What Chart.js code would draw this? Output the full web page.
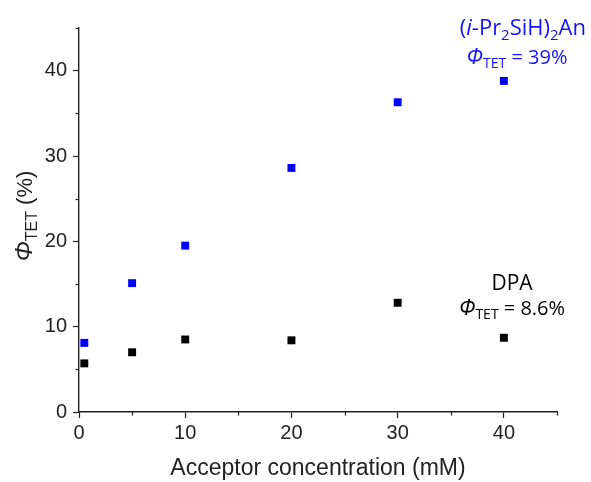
<!DOCTYPE html>
<html><head><meta charset="utf-8">
<script src="https://cdn.jsdelivr.net/npm/chart.js@4/dist/chart.umd.min.js"></script>
<style>html,body{margin:0;padding:0;background:#fff}#wrap{width:591px;height:482px}</style>
</head><body><div id="wrap"><canvas id="c" width="591" height="482"></canvas></div>
<script>
const concentrations = [0.5, 5, 10, 20, 30, 40];
const silylAnthraceneYield = [8.1, 15.1, 19.5, 28.6, 36.3, 38.8];
const dpaYield = [5.7, 7.0, 8.5, 8.4, 12.8, 8.7];
const xTicks = [0, 10, 20, 30, 40];
const yTicks = [0, 10, 20, 30, 40];
const minorTicks = [5, 15, 25, 35, 45];
const seriesNames = ['(i-Pr2SiH)2An', 'DPA'];

const toPts = (xs, ys) => xs.map((x, i) => ({x, y: ys[i]}));

const annotPlugin = {
  id: 'annot',
  afterDraw(chart) {
    const ctx = chart.ctx;
    const xs = chart.scales.x, ys = chart.scales.y;
    ctx.save();
    ctx.strokeStyle = '#222'; ctx.lineWidth = 1.2;
    minorTicks.forEach(v => {
      const px = Math.round(xs.getPixelForValue(v)) + 0.5;
      ctx.beginPath(); ctx.moveTo(px, xs.top); ctx.lineTo(px, xs.top + 3.5); ctx.stroke();
      const py = Math.round(ys.getPixelForValue(v)) + 0.5;
      ctx.beginPath(); ctx.moveTo(ys.right, py); ctx.lineTo(ys.right - 3.5, py); ctx.stroke();
    });
    function rich(parts, x, y, align) {
      let w = 0;
      parts.forEach(p => { ctx.font = p.font; w += ctx.measureText(p.t).width; });
      let cx = align === 'right' ? x - w : (align === 'center' ? x - w / 2 : x);
      parts.forEach(p => {
        ctx.font = p.font; ctx.fillStyle = p.c;
        ctx.fillText(p.t, cx, y + (p.dy || 0));
        cx += ctx.measureText(p.t).width;
      });
    }
    ctx.textBaseline = 'alphabetic'; ctx.textAlign = 'left';
    const F = '"Open Sans", sans-serif';
    const blue = '#1414ff';
    rich([
      {t: '(', font: `22px ${F}`, c: blue},
      {t: 'i', font: `italic 22px ${F}`, c: blue},
      {t: '-Pr', font: `22px ${F}`, c: blue},
      {t: '2', font: `15px ${F}`, c: blue, dy: 5},
      {t: 'SiH)', font: `22px ${F}`, c: blue},
      {t: '2', font: `15px ${F}`, c: blue, dy: 5},
      {t: 'An', font: `22px ${F}`, c: blue}
    ], 586, 35, 'right');
    rich([
      {t: 'Φ', font: `italic 22px ${F}`, c: blue},
      {t: 'TET', font: `14px ${F}`, c: blue, dy: 4},
      {t: ' = 39%', font: `20px ${F}`, c: blue}
    ], 517, 64, 'center');
    rich([{t: 'DPA', font: `21px ${F}`, c: '#000'}], 512, 290, 'center');
    rich([
      {t: 'Φ', font: `italic 22px ${F}`, c: '#000'},
      {t: 'TET', font: `14px ${F}`, c: '#000', dy: 4},
      {t: ' = 8.6%', font: `20px ${F}`, c: '#000'}
    ], 512, 315, 'center');
    ctx.translate(32, 216); ctx.rotate(-Math.PI / 2);
    const A = '"Liberation Sans", Arial, sans-serif';
    rich([
      {t: 'Φ', font: `italic 24px ${A}`, c: '#222'},
      {t: 'TET', font: `16px ${A}`, c: '#222', dy: 5},
      {t: ' (%)', font: `22px ${A}`, c: '#222'}
    ], 0, 0, 'center');
    ctx.restore();
  }
};

new Chart(document.getElementById('c'), {
  type: 'scatter',
  data: {
    datasets: [
      {label: seriesNames[0], data: toPts(concentrations, silylAnthraceneYield), backgroundColor: '#0000ff', borderWidth: 0, pointStyle: 'rect', pointRadius: 5.6},
      {label: seriesNames[1], data: toPts(concentrations, dpaYield), backgroundColor: '#000000', borderWidth: 0, pointStyle: 'rect', pointRadius: 5.6}
    ]
  },
  options: {
    responsive: false, animation: false, devicePixelRatio: 1,
    layout: {padding: {left: 0, top: 28, right: 34, bottom: 0}},
    plugins: {legend: {display: false}, tooltip: {enabled: false}},
    scales: {
      x: {
        type: 'linear', min: 0, max: 45,
        afterBuildTicks: s => { s.ticks = xTicks.map(v => ({value: v})); },
        afterFit: s => { s.height = 70; },
        ticks: {font: {family: '"Liberation Sans", Arial, sans-serif', size: 20}, color: '#222', padding: 3, maxRotation: 0},
        grid: {drawOnChartArea: false, drawTicks: true, tickLength: 6, tickColor: '#222', tickWidth: 1.2},
        border: {display: true, color: '#222', width: 1.4},
        title: {display: true, text: 'Acceptor concentration (mM)', font: {family: '"Liberation Sans", Arial, sans-serif', size: 23}, color: '#222', padding: {top: 4, bottom: 0}}
      },
      y: {
        type: 'linear', min: 0, max: 45,
        afterBuildTicks: s => { s.ticks = yTicks.map(v => ({value: v})); },
        afterFit: s => { s.width = 79; },
        ticks: {font: {family: '"Liberation Sans", Arial, sans-serif', size: 20}, color: '#222', padding: 6},
        grid: {drawOnChartArea: false, drawTicks: true, tickLength: 6, tickColor: '#222', tickWidth: 1.2},
        border: {display: true, color: '#222', width: 1.4}
      }
    }
  },
  plugins: [annotPlugin]
});
</script></body></html>
